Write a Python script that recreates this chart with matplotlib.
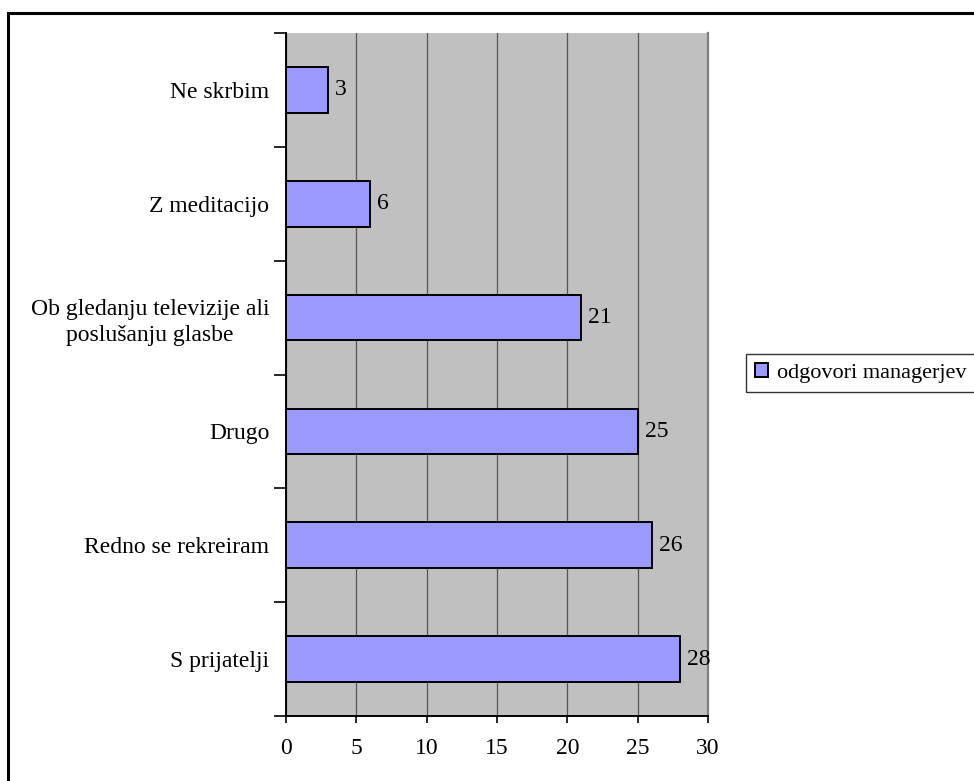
import matplotlib
matplotlib.use("Agg")
import matplotlib.pyplot as plt
from matplotlib.patches import Rectangle

# answers, bottom to top as drawn on the y axis
categories = ["S prijatelji", "Redno se rekreiram", "Drugo",
              "Ob gledanju televizije ali\nposlušanju glasbe",
              "Z meditacijo", "Ne skrbim"]
values = [28, 26, 25, 21, 6, 3]
series_name = "odgovori managerjev"
x_ticks = [0, 5, 10, 15, 20, 25, 30]

plt.rcParams['font.family'] = ['Liberation Serif', 'DejaVu Serif']
FS = 17

fig = plt.figure(figsize=(9.74, 7.81), dpi=100)
W, H = 974, 781

# outer chart frame (runs off the right and bottom edge)
fig.patches.append(Rectangle((8 / W, -0.05), 1.2, (H - 13) / H + 0.05,
                             transform=fig.transFigure, fill=False,
                             edgecolor='black', linewidth=2.2, zorder=0))

ax = fig.add_axes([286 / W, (H - 716) / H, (708 - 286) / W, (716 - 33) / H])
ax.set_facecolor('#C0C0C0')

ypos = list(range(len(categories)))
bars = ax.barh(ypos, values, height=0.4, color='#9999FF',
               edgecolor='black', linewidth=1.4, zorder=3,
               label=series_name)

for y, v in zip(ypos, values):
    ax.annotate(str(v), xy=(v, y), xytext=(5, 0), textcoords='offset points',
                va='center', ha='left', fontsize=FS)

ax.set_xlim(0, 30)
ax.set_ylim(-0.5, len(categories) - 0.5)
ax.set_xticks(x_ticks)
ax.set_xticklabels([str(t) for t in x_ticks], fontsize=FS)
ax.xaxis.grid(True, color='#555555', linewidth=0.9, zorder=1)
ax.set_axisbelow(True)

# category labels centred on bars, ticks on the category boundaries
ax.set_yticks(ypos)
ax.set_yticklabels(categories, fontsize=FS, multialignment='center',
                   linespacing=1.3)
ax.set_yticks([i - 0.5 for i in range(len(categories) + 1)], minor=True)
ax.tick_params(axis='y', which='major', length=0, pad=12)
ax.tick_params(axis='y', which='minor', length=9, width=1.2, direction='out')
ax.tick_params(axis='x', length=5, width=1.2, direction='out', pad=11)

ax.spines['top'].set_visible(False)
ax.spines['right'].set_color('#808080')
ax.spines['right'].set_linewidth(1.6)
ax.spines['left'].set_linewidth(1.4)
ax.spines['bottom'].set_linewidth(1.4)

leg = fig.legend(handles=[bars], labels=[series_name], loc='center left',
                 bbox_to_anchor=(746 / W, (H - 373) / H), fontsize=16,
                 frameon=True, fancybox=False, borderaxespad=0,
                 handlelength=0.6, handleheight=0.6, handletextpad=0.4,
                 borderpad=0.4)
leg.get_frame().set_edgecolor('black')
leg.get_frame().set_linewidth(1.0)

fig.savefig("out.png", dpi=100)
